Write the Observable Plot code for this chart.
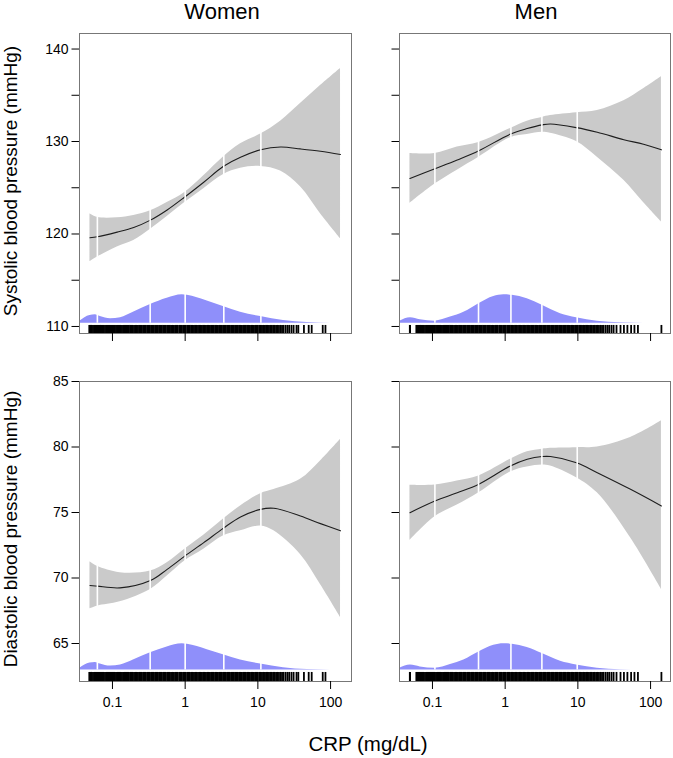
<!DOCTYPE html>
<html><head><meta charset="utf-8">
<script src="https://cdn.jsdelivr.net/npm/d3@7"></script>
<script src="https://cdn.jsdelivr.net/npm/@observablehq/plot@0.6"></script>
<style>
body{margin:0;background:#fff;}
#wrap{position:relative;width:673px;height:758px;font-family:"Liberation Sans",Arial,Helvetica,sans-serif;color:#000;overflow:hidden;background:#fff}
.panel{position:absolute}
.lbl{position:absolute;white-space:nowrap;line-height:1.1em}
</style></head><body><div id="wrap"></div>
<script>
// ---------- text ----------
const sexes = ["Women", "Men"];
const outcomes = ["Systolic blood pressure (mmHg)", "Diastolic blood pressure (mmHg)"];
const xTitle = "CRP (mg/dL)";

// ---------- ticks ----------
const xTicks = [0.1, 1, 10, 100];
const sysTicks = [110, 115, 120, 125, 130, 135, 140];
const sysLabelTicks = [110, 120, 130, 140];
const diaTicks = [65, 70, 75, 80, 85];

// ---------- Women, systolic ----------
const wSysCrp = [0.049, 0.062, 0.116, 0.196, 0.333, 0.565, 0.987, 1.8, 3.33, 5.77, 10.9, 20.5, 38.5, 72.6, 137];
const wSysFit = [119.6, 119.7, 120.2, 120.7, 121.5, 122.6, 124.0, 125.6, 127.3, 128.3, 129.1, 129.4, 129.2, 128.95, 128.6];
const wSysLo  = [117.0, 117.5, 118.6, 119.3, 120.5, 121.9, 123.4, 124.9, 126.4, 127.1, 127.3, 126.8, 125.1, 122.2, 119.5];
const wSysHi  = [122.2, 121.8, 121.75, 122.0, 122.5, 123.4, 124.5, 126.3, 128.3, 129.75, 130.8, 132.2, 134.1, 136.05, 137.9];

// ---------- Men, systolic ----------
const mSysCrp = [0.049, 0.108, 0.219, 0.434, 1.18, 2.01, 3.23, 4.2, 9.57, 18.5, 42.9, 80, 141];
const mSysFit = [126.0, 127.05, 128.0, 129.0, 130.8, 131.4, 131.8, 131.9, 131.5, 131.0, 130.2, 129.7, 129.1];
const mSysLo  = [123.3, 125.4, 126.9, 128.3, 130.4, 130.75, 131.0, 130.9, 130.0, 128.3, 125.8, 123.4, 121.3];
const mSysHi  = [128.7, 128.7, 129.4, 129.9, 131.4, 132.2, 132.6, 132.8, 133.1, 133.35, 134.4, 135.7, 137.0];

// ---------- Women, diastolic ----------
const wDiaCrp = [0.049, 0.062, 0.127, 0.333, 0.565, 0.987, 1.8, 3.33, 5.77, 10.9, 16.6, 38.5, 72.6, 137];
const wDiaFit = [69.43, 69.38, 69.25, 69.81, 70.66, 71.67, 72.7, 73.79, 74.66, 75.24, 75.32, 74.73, 74.15, 73.6];
const wDiaLo  = [67.65, 67.85, 68.18, 69.13, 70.15, 71.3, 72.19, 73.2, 73.6, 73.97, 73.6, 71.8, 69.51, 67.0];
const wDiaHi  = [71.24, 70.89, 70.4, 70.53, 71.16, 72.19, 73.26, 74.48, 75.5, 76.44, 76.75, 77.54, 78.94, 80.6];

// ---------- Men, diastolic ----------
const mDiaCrp = [0.049, 0.108, 0.219, 0.434, 1.18, 2.01, 3.23, 4.2, 9.57, 18.5, 53, 141];
const mDiaFit = [74.99, 75.88, 76.51, 77.16, 78.55, 79.06, 79.27, 79.27, 78.8, 78.04, 76.77, 75.5];
const mDiaLo  = [72.87, 74.68, 75.57, 76.51, 78.1, 78.48, 78.63, 78.55, 77.66, 76.5, 73.07, 69.13];
const mDiaHi  = [77.08, 77.1, 77.41, 77.79, 79.06, 79.63, 79.83, 79.9, 79.95, 80.0, 80.72, 82.0];

// ---------- CRP distribution (relative density) ----------
const wDensCrp = [0.0355, 0.049, 0.058, 0.068, 0.094, 0.129, 0.194, 0.333, 0.565, 0.91, 1.07, 2.01, 3.34, 5.77, 10.9, 22.5, 47.6, 100];
const wDens    = [0.07, 0.27, 0.29, 0.23, 0.15, 0.19, 0.38, 0.65, 0.87, 0.99, 0.97, 0.77, 0.58, 0.38, 0.23, 0.09, 0.02, 0];
const mDensCrp = [0.0355, 0.0498, 0.068, 0.108, 0.177, 0.27, 0.434, 0.697, 0.957, 1.25, 2.01, 3.23, 5.77, 9.58, 18.5, 38.5, 80];
const mDens    = [0.07, 0.19, 0.12, 0.07, 0.21, 0.38, 0.68, 0.93, 0.99, 0.97, 0.85, 0.62, 0.33, 0.19, 0.07, 0.015, 0];

// ---------- CRP quantiles (white lines) ----------
const wQuant = [0.062, 0.33, 1.0, 3.4, 11];
const mQuant = [0.108, 0.43, 1.2, 3.2, 9.8];

// ---------- rug (observed CRP values) ----------
const rugCore = [0.06,0.062,0.064,0.066,0.068,0.07,0.073,0.076,0.079,0.082,0.085,0.088,0.091,0.094,0.097,
 0.1,0.104,0.108,0.112,0.116,0.12,0.125,0.13,0.135,0.14,0.145,0.15,0.156,0.162,0.168,0.175,0.182,0.19,0.198,0.206,0.215,0.224,0.233,0.243,0.253,0.264,0.275,0.287,0.3,0.313,0.326,0.34,0.355,0.37,0.386,0.403,0.42,0.438,0.457,0.477,0.498,0.52,0.54,0.565,0.59,0.615,0.64,0.67,0.7,0.73,0.76,0.79,0.83,0.86,0.9,0.94,0.98,
 1.02,1.07,1.11,1.16,1.21,1.26,1.32,1.37,1.43,1.5,1.56,1.63,1.7,1.77,1.85,1.93,2.01,2.1,2.19,2.28,2.38,2.48,2.59,2.7,2.82,2.94,3.07,3.2,3.34,3.48,3.63,3.79,3.95,4.12,4.3,4.48,4.68,4.88,5.09,5.31,5.54,5.78,6.03,6.29,6.56,6.84,7.14,7.45,7.77,8.1,8.45,8.82,9.2,9.6,
 10,10.5,11,11.4,11.9,12.5,13,13.6,14.2,14.8,15.5,16.2,17,17.8,18.6,19.5,20.5,21.5,22.5,24,25.5,27];
const rugWomenExtra = [0.048,0.049,0.05,0.051,0.052,0.054,0.056,0.058,29,31,34,36,43,50,55,78,85];
const rugMenExtra = [0.0488,0.049,0.0492,29,31,34,38.6,43,48,54,60,67,141];

// ---------- build ----------
const wrap = document.getElementById("wrap");
const FONT = '"Liberation Sans", Arial, Helvetica, sans-serif';

function rows(crp, fit, lo, hi) { return crp.map((x, i) => ({x, fit: fit[i], lo: lo[i], hi: hi[i]})); }
function drows(crp, d) { return crp.map((x, i) => ({x, d: d[i]})); }

const cols = [
  {L: 79, W: 272, xDomain: [0.0352, 194], dens: drows(wDensCrp, wDens), quant: wQuant, rug: rugCore.concat(rugWomenExtra)},
  {L: 399, W: 271, xDomain: [0.0352, 188], dens: drows(mDensCrp, mDens), quant: mQuant, rug: rugCore.concat(rugMenExtra)}
];
const rowsCfg = [
  {T: 33, H: 300, yDomain: [109.24, 141.68], ticks: sysTicks, labelTicks: sysLabelTicks,
   densBase: 110.36, densPeak: 113.46, rugTop: 110.11,
   bands: [rows(wSysCrp, wSysFit, wSysLo, wSysHi), rows(mSysCrp, mSysFit, mSysLo, mSysHi)]},
  {T: 380.7, H: 300, yDomain: [62.1, 85], ticks: diaTicks, labelTicks: diaTicks,
   densBase: 62.97, densPeak: 65.0, rugTop: 62.79,
   bands: [rows(wDiaCrp, wDiaFit, wDiaLo, wDiaHi), rows(mDiaCrp, mDiaFit, mDiaLo, mDiaHi)]}
];

const mL = 50, mR = 6, mT = 8, mB = 42;

rowsCfg.forEach((r, ri) => {
  cols.forEach((c, ci) => {
    const band = r.bands[ci];
    const [y0, y1] = r.yDomain;
    const showY = ci === 0, showX = ri === 1;
    const plot = Plot.plot({
      width: mL + c.W + mR,
      height: mT + r.H + mB,
      marginLeft: mL, marginRight: mR, marginTop: mT, marginBottom: mB,
      style: {fontFamily: FONT, fontSize: "14px", background: "transparent", color: "#000", overflow: "visible"},
      x: {type: "log", domain: c.xDomain},
      y: {domain: r.yDomain},
      marks: [
        Plot.areaY(c.dens, {x: "x", y1: r.densBase, y2: d => r.densBase + d.d * (r.densPeak - r.densBase), fill: "#8f8ffa", curve: "monotone-x"}),
        Plot.areaY(band, {x: "x", y1: "lo", y2: "hi", fill: "#cacaca", curve: "catmull-rom"}),
        Plot.lineY(band, {x: "x", y: "fit", stroke: "#1e1e1e", strokeWidth: 1.1, curve: "catmull-rom"}),
        Plot.ruleX(c.quant, {x: d => d, y1: r.densBase, y2: y1, stroke: "#fff", strokeWidth: 1.6}),
        Plot.ruleX(c.rug, {x: d => d, y1: y0, y2: r.rugTop, stroke: "#000", strokeWidth: 1.8}),
        Plot.frame({stroke: "#777", strokeWidth: 1}),
        Plot.axisX({ticks: xTicks, tickSize: 8, tickPadding: 8, line: true, stroke: "#000",
                    tickFormat: showX ? (d => String(d)) : (() => ""), label: null, fontSize: 14}),
        Plot.axisY({ticks: r.ticks, tickSize: 7.5, tickPadding: 3.5, line: true, stroke: "#000",
                    tickFormat: showY ? (d => r.labelTicks.includes(d) ? String(d) : "") : (() => ""), label: null, fontSize: 14})
      ]
    });
    plot.classList.add("panel");
    plot.style.left = (c.L - mL) + "px";
    plot.style.top = (r.T - mT) + "px";
    wrap.appendChild(plot);
  });
});

// ---------- labels ----------
function hText(txt, cx, baseline, size) {
  const d = document.createElement("div");
  d.className = "lbl";
  d.textContent = txt;
  d.style.fontSize = size + "px";
  d.style.left = cx + "px";
  d.style.top = (baseline - 0.8965 * size) + "px";
  d.style.transform = "translateX(-50%)";
  wrap.appendChild(d);
}
function vText(txt, baselineX, cy, size) {
  const d = document.createElement("div");
  d.className = "lbl";
  d.textContent = txt;
  d.style.fontSize = size + "px";
  d.style.left = (baselineX - 0.3465 * size) + "px";
  d.style.top = cy + "px";
  d.style.transform = "translate(-50%,-50%) rotate(-90deg)";
  wrap.appendChild(d);
}
hText(sexes[0], 222, 20, 22);
hText(sexes[1], 536, 20, 22);
vText(outcomes[0], 18, 181, 19);
vText(outcomes[1], 18, 529, 19);
hText(xTitle, 368, 751.5, 20.5);
</script>
</body></html>
